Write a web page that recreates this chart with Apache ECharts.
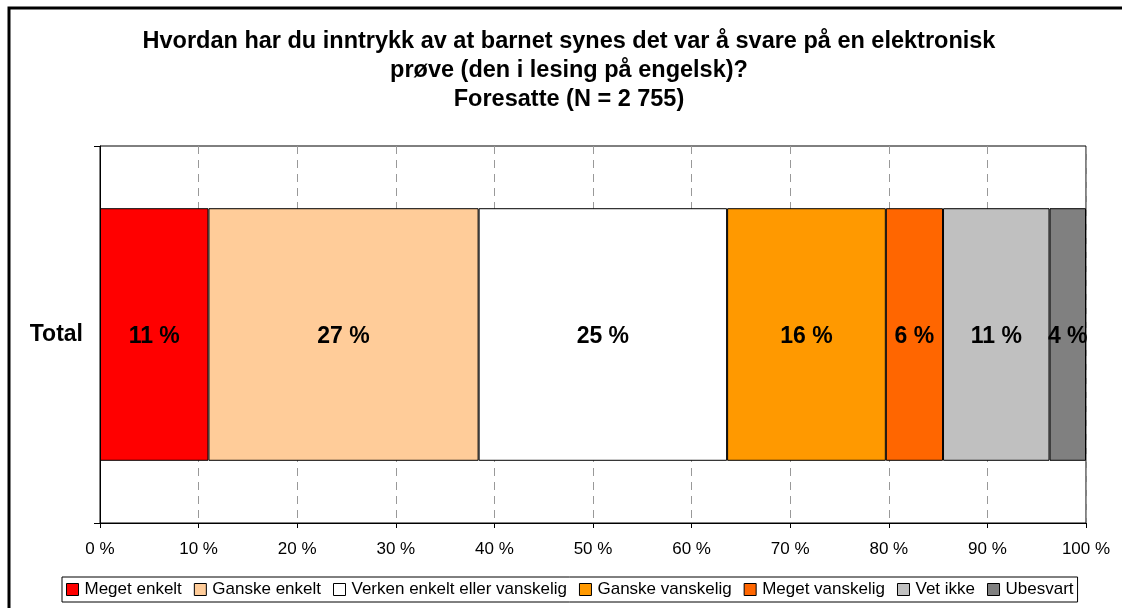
<!DOCTYPE html>
<html>
<head>
<meta charset="utf-8">
<script src="https://cdn.jsdelivr.net/npm/echarts@6/dist/echarts.min.js"></script>
<style>
  body { margin: 0; background: #fff; }
  #chart { width: 1122px; height: 608px; }
</style>
</head>
<body>
<div id="chart"></div>
<script>
var titleLines = [
    'Hvordan har du inntrykk av at barnet synes det var å svare på en elektronisk',
    'prøve (den i lesing på engelsk)?',
    'Foresatte (N = 2 755)'
];
var categories = ['Total'];
var seriesNames = ['Meget enkelt', 'Ganske enkelt', 'Verken enkelt eller vanskelig',
    'Ganske vanskelig', 'Meget vanskelig', 'Vet ikke', 'Ubesvart'];
var seriesValues = [11.0, 27.4, 25.2, 16.1, 5.8, 10.8, 3.7];
var seriesColors = ['#FF0000', '#FFCC99', '#FFFFFF', '#FF9900', '#FF6600', '#C0C0C0', '#808080'];

var myChart = echarts.init(document.getElementById('chart'), null, { renderer: 'canvas' });

var series = [];
for (var i = 0; i < seriesNames.length; i++) {
    series.push({
        name: seriesNames[i],
        type: 'bar',
        stack: 'total',
        barWidth: '67%',
        data: [seriesValues[i]],
        itemStyle: { color: seriesColors[i], borderColor: '#000', borderWidth: 1 },
        label: {
            show: true,
            position: 'inside',
            offset: [0, 2],
            formatter: function (p) { return Math.round(p.value) + ' %'; },
            color: '#000',
            fontFamily: 'Liberation Sans, Arial',
            fontWeight: 'bold',
            fontSize: 23
        }
    });
}

var titleGraphics = [];
for (var j = 0; j < titleLines.length; j++) {
    titleGraphics.push({
        type: 'text',
        x: 569,
        y: 42 + j * 29,
        style: {
            text: titleLines[j],
            textAlign: 'center',
            textVerticalAlign: 'middle',
            fill: '#000',
            font: 'bold 23.5px "Liberation Sans", Arial'
        }
    });
}

var option = {
    animation: false,
    textStyle: { fontFamily: 'Liberation Sans, Arial', color: '#000' },
    graphic: [
        {
            type: 'polyline',
            shape: { points: [[9, 608], [9, 8], [1122, 8]] },
            style: { stroke: '#000', lineWidth: 3, fill: null }
        }
    ].concat(titleGraphics),
    grid: {
        left: 100, right: 36, top: 146, bottom: 85,
        show: true, borderColor: '#000', borderWidth: 1
    },
    legend: {
        bottom: 6,
        left: 62,
        itemWidth: 12,
        itemHeight: 12,
        itemGap: 12,
        padding: [4, 4, 4, 4],
        borderColor: '#000',
        borderWidth: 1,
        icon: 'rect',
        itemStyle: { borderColor: '#000', borderWidth: 1 },
        textStyle: { fontSize: 17, color: '#000', padding: [0, 0, 0, 1] },
        data: seriesNames
    },
    xAxis: {
        type: 'value',
        min: 0,
        max: 100,
        interval: 10,
        axisLine: { show: true, lineStyle: { color: '#000' } },
        axisTick: { show: true, length: 5, lineStyle: { color: '#000' } },
        axisLabel: { formatter: '{value} %', fontSize: 17, color: '#000', margin: 18 },
        splitLine: { show: true, lineStyle: { color: '#999', type: [8, 6] } }
    },
    yAxis: {
        type: 'category',
        data: categories,
        axisLine: { show: true, lineStyle: { color: '#000' } },
        axisTick: { show: true, length: 6, lineStyle: { color: '#000' } },
        axisLabel: { fontSize: 23, fontWeight: 'bold', color: '#000', margin: 17, padding: [4, 0, 0, 0] }
    },
    series: series
};

myChart.setOption(option);
</script>
</body>
</html>
